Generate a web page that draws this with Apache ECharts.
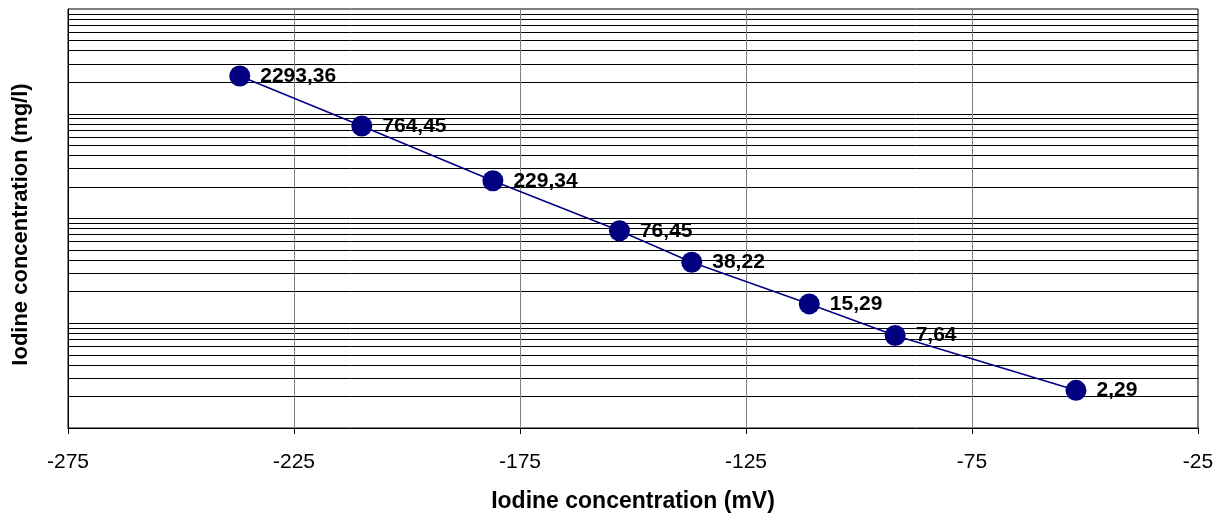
<!DOCTYPE html>
<html>
<head>
<meta charset="utf-8">
<script src="https://cdn.jsdelivr.net/npm/echarts@6/dist/echarts.min.js"></script>
<style>
html,body{margin:0;padding:0;background:#fff;}
#chart{width:1225px;height:513px;}
</style>
</head>
<body>
<div id="chart"></div>
<script>
// Data
var mvValues = [-237, -210, -181, -153, -137, -111, -92, -52];
var concValues = [2293.36, 764.45, 229.34, 76.45, 38.22, 15.29, 7.64, 2.29];
// Log-scale gridline values (minor + major), and vertical gridline positions
var hGridValues = [2,3,4,5,6,7,8,9,10,20,30,40,50,60,70,80,90,100,200,300,400,500,600,700,800,900,1000,2000,3000,4000,5000,6000,7000,8000,9000];
var vGridValues = [-225, -175, -125, -75];

var FONT = 'Arial, "Liberation Sans", sans-serif';
var chart = echarts.init(document.getElementById('chart'), null, {renderer: 'canvas'});

var points = mvValues.map(function (x, i) { return [x, concValues[i]]; });

chart.setOption({
  animation: false,
  backgroundColor: '#ffffff',
  grid: {
    left: 68, top: 9, width: 1130, height: 419,
    containLabel: false,
    outerBoundsMode: 'none',
    show: true, borderColor: '#000', borderWidth: 1, backgroundColor: 'transparent'
  },
  xAxis: {
    type: 'value',
    min: -275, max: -25, interval: 50,
    name: 'Iodine concentration (mV)',
    nameLocation: 'middle',
    nameGap: 62,
    nameTextStyle: {fontFamily: FONT, fontWeight: 'bold', fontSize: 23, color: '#000'},
    axisLine: {show: true, onZero: false, lineStyle: {color: '#000', width: 1}},
    axisTick: {show: true, inside: false, length: 6, lineStyle: {color: '#000'}},
    axisLabel: {fontFamily: FONT, fontSize: 21, color: '#000', margin: 24},
    splitLine: {show: true, lineStyle: {color: '#808080', width: 1}}
  },
  yAxis: {
    type: 'log',
    logBase: 10,
    min: 1, max: 10000,
    name: 'Iodine concentration (mg/l)',
    nameLocation: 'middle',
    nameGap: 36,
    nameRotate: 90,
    nameTextStyle: {fontFamily: FONT, fontWeight: 'bold', fontSize: 22, color: '#000', padding: [0, 12, 0, 0]},
    axisLine: {show: true, lineStyle: {color: '#000', width: 1}},
    axisTick: {show: false},
    axisLabel: {show: false},
    splitLine: {show: false}
  },
  series: [
    {
      type: 'line',
      data: [],
      z: 1,
      silent: true,
      markLine: {
        silent: true,
        symbol: ['none', 'none'],
        label: {show: false},
        animation: false,
        data: hGridValues.map(function (v) {
          return {yAxis: v, lineStyle: {color: '#000', width: 1, type: 'solid'}};
        }).concat(vGridValues.map(function (v) {
          return {xAxis: v, lineStyle: {color: '#808080', width: 1, type: 'solid'}};
        }))
      }
    },
    {
      type: 'line',
      z: 5,
      data: points,
      symbol: 'circle',
      symbolSize: 21,
      itemStyle: {color: '#000080'},
      lineStyle: {color: '#000080', width: 1.5},
      label: {
        show: true,
        position: 'right',
        distance: 10,
        fontFamily: FONT,
        fontWeight: 'bold',
        fontSize: 21,
        color: '#000',
        formatter: function (p) { return p.value[1].toFixed(2).replace('.', ','); }
      }
    }
  ]
});
</script>
</body>
</html>
